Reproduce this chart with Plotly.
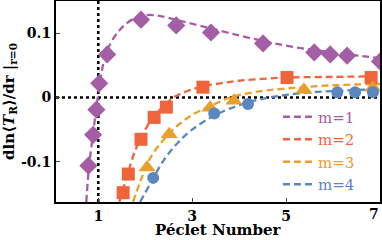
import plotly.graph_objects as go

# ---- data ----
m1_x = [0.79, 0.89, 0.96, 1.02, 1.19, 1.91, 2.66, 3.40, 4.51, 5.60, 5.94, 6.30, 7.0]
m1_y = [-0.106, -0.058, -0.019, 0.022, 0.067, 0.121, 0.112, 0.101, 0.084, 0.070, 0.067, 0.065, 0.056]
m2_x = [1.53, 1.64, 1.91, 2.19, 2.45, 3.23, 5.02, 6.81]
m2_y = [-0.148, -0.119, -0.065, -0.031, -0.015, 0.016, 0.031, 0.031]
m3_x = [2.04, 2.51, 3.38, 3.89, 5.38, 6.85]
m3_y = [-0.109, -0.057, -0.016, -0.005, 0.012, 0.015]
m4_x = [2.17, 3.47, 4.19, 6.09, 6.47, 6.85]
m4_y = [-0.125, -0.025, -0.010, 0.008, 0.008, 0.008]

f1_x = [0.745, 0.8, 0.9, 1.0, 1.1, 1.2, 1.4, 1.6, 1.8, 2.0, 2.3, 2.7, 3.2, 3.8, 4.5, 5.2, 6.0, 7.0]
f1_y = [-0.1625, -0.11, -0.05, 0.005, 0.05, 0.075, 0.10, 0.115, 0.124, 0.128, 0.127, 0.12, 0.111, 0.10, 0.088, 0.078, 0.07, 0.061]
f2_x = [1.45, 1.6, 1.8, 2.0, 2.2, 2.4, 2.6, 2.9, 3.2, 3.6, 4.0, 4.5, 5.0, 6.0, 7.0]
f2_y = [-0.1625, -0.125, -0.08, -0.05, -0.028, -0.013, 0.0, 0.01, 0.017, 0.022, 0.026, 0.029, 0.031, 0.032, 0.033]
f3_x = [1.74, 1.9, 2.1, 2.4, 2.7, 3.0, 3.4, 3.8, 4.3, 5.0, 6.0, 7.0]
f3_y = [-0.1625, -0.13, -0.095, -0.065, -0.043, -0.027, -0.013, 0.0, 0.008, 0.014, 0.019, 0.021]
f4_x = [1.89, 2.1, 2.4, 2.7, 3.0, 3.5, 4.0, 4.5, 5.0, 5.5, 6.0, 7.0]
f4_y = [-0.1625, -0.135, -0.097, -0.07, -0.05, -0.027, -0.012, -0.002, 0.004, 0.008, 0.01, 0.013]

names = ["m=1", "m=2", "m=3", "m=4"]
colors = ["#A45EA6", "#EF643A", "#E8A02A", "#5B87BF"]
symbols = ["diamond", "square", "triangle-up", "circle"]
msizes = [14, 13, 15, 12]

x_ticks = [1, 3, 5]
x_last_tick = 7
y_ticks = [-0.1, 0, 0.1]
y_ticklabels = ["-0.1", "0", "0.1"]
x_title = "Péclet Number"

fits = [(f1_x, f1_y), (f2_x, f2_y), (f3_x, f3_y), (f4_x, f4_y)]
marks = [(m1_x, m1_y), (m2_x, m2_y), (m3_x, m3_y), (m4_x, m4_y)]

fig = go.Figure()

XR = [0.1, 7.0]
YR = [-0.1625, 0.15]

# reference dotted lines
fig.add_trace(go.Scatter(x=XR, y=[0, 0], mode="lines", showlegend=False,
                         line=dict(color="black", width=2.6, dash="3px,3px"), hoverinfo="skip"))
fig.add_trace(go.Scatter(x=[1, 1], y=YR, mode="lines", showlegend=False,
                         line=dict(color="black", width=2.6, dash="3px,3px"), hoverinfo="skip"))

for (fx, fy), name, c in zip(fits, names, colors):
    fig.add_trace(go.Scatter(x=fx, y=fy, mode="lines", line_shape="spline",
                             name=f"<span style='color:{c}'>{name}</span>",
                             line=dict(color=c, width=2.3, dash="7px,4px")))

for (mx, my), c, s, ms in zip(marks, colors, symbols, msizes):
    fig.add_trace(go.Scatter(x=mx, y=my, mode="markers", showlegend=False,
                             marker=dict(color=c, symbol=s, size=ms, line=dict(width=0))))

serif = "DejaVu Serif"

# last x tick label sits at the right edge: draw it as an annotation
fig.add_annotation(x=x_last_tick, y=0, xref="x", yref="paper", yanchor="top",
                   text=f"<b>{x_last_tick}</b>", showarrow=False, xshift=-6, yshift=-2,
                   font=dict(family=serif, size=14, color="black"))
# x axis title
fig.add_annotation(x=0.5, y=-0.14, xref="paper", yref="paper", yanchor="middle",
                   text=f"<b>{x_title}</b>", showarrow=False, borderpad=0,
                   font=dict(family=serif, size=15, color="black"))

fig.update_layout(
    width=382, height=240,
    margin=dict(l=56, r=2, t=1, b=38, autoexpand=False),
    paper_bgcolor="white", plot_bgcolor="white",
    font=dict(family=serif, color="black"),
    legend=dict(x=0.685, y=0.505, xanchor="left", yanchor="top",
                bgcolor="rgba(0,0,0,0)", font=dict(family=serif, size=15),
                tracegroupgap=0, itemwidth=30),
    xaxis=dict(range=XR, tickvals=x_ticks, ticks="inside", ticklen=4,
               tickfont=dict(family=serif, size=14, weight="bold"),
               showline=True, linecolor="black", linewidth=2, mirror=True,
               showgrid=False, zeroline=False, automargin=False),
    yaxis=dict(range=YR, tickvals=y_ticks, ticktext=y_ticklabels, ticks="inside", ticklen=4,
               tickfont=dict(family=serif, size=14, weight="bold"),
               showline=True, linecolor="black", linewidth=2, mirror=True,
               showgrid=False, zeroline=False, automargin=False,
               title=dict(text="<b>dln⟨<i>T</i><sub>R</sub>⟩/dr |<sub>r=0</sub></b>",
                          font=dict(family=serif, size=15), standoff=4)),
)

fig.write_html("out.html", config={"displayModeBar": False},
               post_script="document.body.style.margin='0';document.body.style.overflow='hidden';")
